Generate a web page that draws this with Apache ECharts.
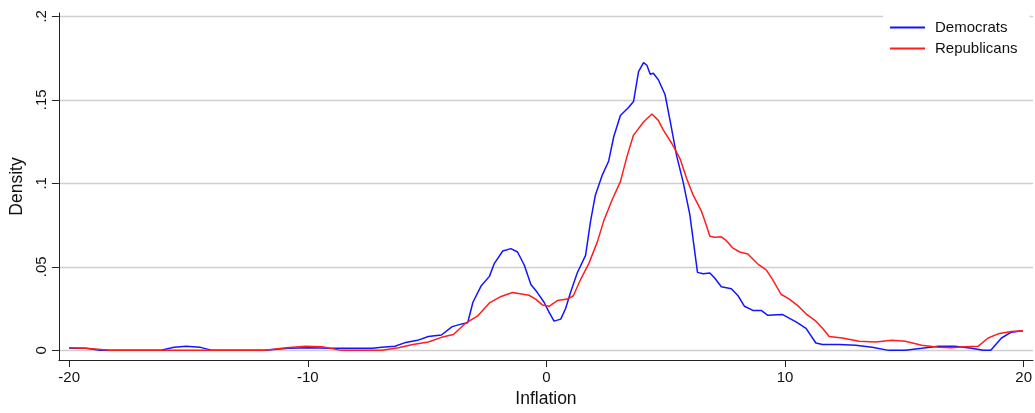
<!DOCTYPE html>
<html><head><meta charset="utf-8">
<script src="https://cdn.jsdelivr.net/npm/echarts@6/dist/echarts.min.js"></script>
<style>html,body{margin:0;padding:0;background:#fff}#c{width:1035px;height:413px}</style>
</head><body><div id="c"></div>
<script>
const demX = [-20,-19.3,-18.7,-17.5,-16.2,-15.6,-15.1,-14.5,-14.0,-12.5,-11.8,-10.8,-10.0,-9.0,-7.6,-7.3,-6.9,-6.35,-5.95,-5.4,-4.95,-4.4,-3.95,-3.5,-3.3,-3.08,-2.74,-2.39,-2.18,-1.83,-1.49,-1.21,-0.93,-0.65,-0.38,-0.1,0.11,0.32,0.6,0.8,1.01,1.29,1.64,1.85,2.05,2.33,2.61,2.82,3.1,3.44,3.65,3.86,4.07,4.21,4.35,4.48,4.69,4.97,5.18,5.46,5.73,6.01,6.19,6.33,6.57,6.85,7.05,7.33,7.75,8.03,8.3,8.65,9.0,9.28,9.9,10.46,10.88,11.29,11.57,12.26,12.96,13.65,14.35,15.04,15.73,16.43,17.12,17.82,18.3,18.62,19.07,19.48,19.97];
const demY = [0.0012,0.0012,0,0,0,0.0018,0.0025,0.0018,0,0,0,0.0012,0.0016,0.0012,0.0012,0.0012,0.0019,0.0025,0.0045,0.006,0.0083,0.0092,0.0142,0.016,0.0165,0.0288,0.0385,0.0443,0.0521,0.0595,0.0609,0.0589,0.0511,0.0394,0.0346,0.0288,0.0229,0.0175,0.0187,0.0249,0.0346,0.0463,0.0569,0.0774,0.0929,0.1046,0.1134,0.1279,0.1406,0.1454,0.149,0.1669,0.1723,0.1707,0.1653,0.1659,0.162,0.1532,0.1377,0.1163,0.1007,0.0813,0.0618,0.0467,0.0459,0.0463,0.0433,0.0381,0.0369,0.0327,0.0264,0.0239,0.0239,0.021,0.0214,0.0171,0.0132,0.0044,0.0035,0.0035,0.0031,0.0019,0,0,0.0012,0.0025,0.0025,0.0012,0,0,0.0074,0.0109,0.0118];
const repX = [-20,-19.3,-18.3,-16,-14,-11.8,-10.9,-10.1,-9.4,-8.6,-6.9,-6.2,-5.6,-4.95,-4.4,-3.9,-3.4,-2.88,-2.39,-1.9,-1.42,-0.73,-0.45,-0.17,0.11,0.46,0.88,1.13,1.43,1.78,2.13,2.4,2.75,3.1,3.38,3.65,4.07,4.42,4.69,4.9,5.25,5.6,5.88,6.15,6.5,6.64,6.85,7.05,7.33,7.54,7.82,8.1,8.44,8.86,9.21,9.48,9.83,10.18,10.53,10.88,11.29,11.57,11.85,12.4,13.1,13.79,14.48,15.04,15.73,16.43,16.98,17.54,18.1,18.51,18.93,19.48,19.97];
const repY = [0.0016,0.0012,0,0,0,0,0.0016,0.0025,0.0021,0,0,0.0016,0.0035,0.005,0.0078,0.0095,0.0161,0.0206,0.0284,0.0323,0.0346,0.033,0.0307,0.0272,0.0264,0.0298,0.0307,0.0327,0.0424,0.0521,0.0648,0.0774,0.09,0.101,0.1163,0.1289,0.1367,0.1415,0.1377,0.1319,0.124,0.1147,0.1027,0.0929,0.0832,0.0774,0.0683,0.0677,0.068,0.0657,0.0612,0.0589,0.0577,0.0517,0.0482,0.0424,0.0336,0.0307,0.0268,0.0219,0.0175,0.0132,0.0083,0.0074,0.0054,0.005,0.006,0.0054,0.0031,0.0019,0.0015,0.0021,0.0025,0.0074,0.0099,0.0113,0.0117];
const xTicks = [-20,-10,0,10,20];
const yTicks = [0,0.05,0.1,0.15,0.2];
const yTickLabels = ['0','.05','.1','.15','.2'];
const seriesNames = ['Democrats','Republicans'];

const chart = echarts.init(document.getElementById('c'), null, {renderer:'canvas'});
const font = 'Liberation Sans, Arial, Helvetica, sans-serif';
function yLabel(v){
  for (let i=0;i<yTicks.length;i++) if (Math.abs(yTicks[i]-v)<1e-9) return yTickLabels[i];
  return '';
}
chart.setOption({
  animation:false,
  backgroundColor:'#fff',
  textStyle:{fontFamily:font},
  grid:{left:55.5,right:0,top:13,bottom:43.7,containLabel:false},
  legend:{
    left:883, top:10, orient:'vertical',
    backgroundColor:'#fff',
    padding:[10,12,8,7],
    itemWidth:35, itemHeight:14, itemGap:6,
    icon:'path://M0,6L35,6L35,8L0,8Z',
    textStyle:{fontSize:15,color:'#111',fontFamily:font,padding:[0,0,0,5]},
    data:seriesNames.map(n=>({name:n}))
  },
  xAxis:{
    type:'value', min:-20.43, max:20.39,
    name:'Inflation', nameLocation:'middle', nameGap:25,
    nameTextStyle:{fontSize:17.5,color:'#111',fontFamily:font},
    axisLine:{show:true,onZero:false,lineStyle:{color:'#222',width:1}},
    axisTick:{show:true,length:7,customValues:xTicks,lineStyle:{color:'#222'}},
    axisLabel:{customValues:xTicks,fontSize:15,color:'#111',margin:10,fontFamily:font,formatter:v=>String(v)},
    splitLine:{show:false}
  },
  yAxis:{
    type:'value', min:-0.00583, max:0.202,
    name:'Density', nameLocation:'middle', nameGap:29, nameRotate:90,
    nameTextStyle:{fontSize:17.5,color:'#111',fontFamily:font},
    axisLine:{show:true,onZero:false,lineStyle:{color:'#222',width:1}},
    axisTick:{show:true,length:7,customValues:yTicks,lineStyle:{color:'#222'}},
    axisLabel:{customValues:yTicks,rotate:90,fontSize:15,color:'#111',margin:10,fontFamily:font,formatter:yLabel},
    splitLine:{show:true,lineStyle:{color:'#cfcfcf',width:1.3}}
  },
  series:[
    {name:seriesNames[0],type:'line',showSymbol:false,symbol:'none',smooth:false,
     lineStyle:{color:'#1414ff',width:1.5},itemStyle:{color:'#1414ff'},
     data:demX.map((x,i)=>[x,demY[i]])},
    {name:seriesNames[1],type:'line',showSymbol:false,symbol:'none',smooth:false,
     lineStyle:{color:'#ff1e1e',width:1.5},itemStyle:{color:'#ff1e1e'},
     data:repX.map((x,i)=>[x,repY[i]])}
  ]
});
</script>
</body></html>
